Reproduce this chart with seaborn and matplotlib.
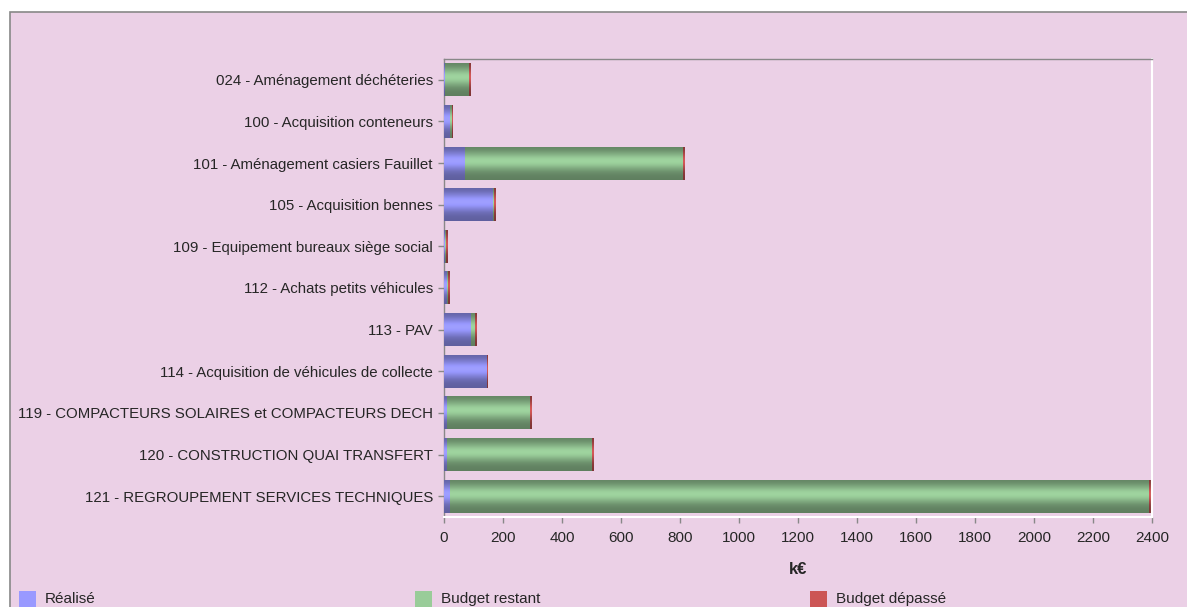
import numpy as np
import pandas as pd
import matplotlib
matplotlib.use("Agg")
import matplotlib.pyplot as plt
from matplotlib.patches import Rectangle
import seaborn as sns

categories = [
    "024 - Aménagement déchéteries",
    "100 - Acquisition conteneurs",
    "101 - Aménagement casiers Fauillet",
    "105 - Acquisition bennes",
    "109 - Equipement bureaux siège social",
    "112 - Achats petits véhicules",
    "113 - PAV",
    "114 - Acquisition de véhicules de collecte",
    "119 - COMPACTEURS SOLAIRES et COMPACTEURS DECH",
    "120 - CONSTRUCTION QUAI TRANSFERT",
    "121 - REGROUPEMENT SERVICES TECHNIQUES",
]
realise = [2, 20, 71, 163, 2, 10, 91, 143, 10, 10, 20]
restant = [82, 4, 738, 4, 4, 1, 12, 0, 279, 491, 2368]
depasse = [6, 6, 6, 6, 6, 6, 6, 6, 6, 6, 6]
xticks = list(range(0, 2401, 200))
legend_labels = ["Réalisé", "Budget restant", "Budget dépassé"]

PINK = "#ebd0e6"
BLUE = "#9999ff"
GREEN = "#99cc99"
RED = "#cc5555"

df = pd.DataFrame({"cat": categories, "r": realise, "g": restant, "d": depasse})
df["rg"] = df["r"] + df["g"]
df["tot"] = df["rg"] + df["d"]

sns.set_style("white")
plt.rcParams["font.family"] = ["Liberation Sans", "DejaVu Sans"]

W, H = 1187, 607
fig = plt.figure(figsize=(W / 100, H / 100), dpi=100)
fig.patch.set_facecolor("white")
fig.patches.append(Rectangle((10 / W, -0.01), 1.0, (H - 12) / H + 0.01,
                             transform=fig.transFigure, facecolor=PINK,
                             edgecolor="#888888", linewidth=1.2, zorder=-10))

ax = fig.add_axes([444 / W, 1 - 517 / H, (1152 - 444) / W, (517 - 59) / H])
ax.set_facecolor(PINK)

layers = [("tot", RED), ("rg", GREEN), ("r", BLUE)]
for col, c in layers:
    sns.barplot(data=df, x=col, y="cat", orient="h", color=c, width=0.79,
                edgecolor="none", saturation=1, ax=ax)


def shade(hexc):
    base = np.array(matplotlib.colors.to_rgb(hexc))
    t = np.linspace(0, 1, 40)
    f = 0.62 + 0.42 * np.exp(-((t - 0.42) / 0.28) ** 2)
    return np.clip(base[None, :] * f[:, None], 0, 1)[:, None, :]


n = len(categories)
for i, p in enumerate(ax.patches):
    color_idx = i // n
    x, y = p.get_x(), p.get_y()
    w, h = p.get_width(), p.get_height()
    if w <= 0:
        continue
    img = shade(layers[color_idx][1])
    ax.imshow(img, extent=[x, x + w, y + h, y], aspect="auto",
              zorder=2 + color_idx, interpolation="bilinear")

ax.set_xlim(0, 2400)
ax.set_ylim(n - 0.5, -0.5)
ax.set_xticks(xticks)
ax.set_xticklabels([str(v) for v in xticks], fontsize=11)
ax.tick_params(axis="y", labelsize=10.8)
ax.set_ylabel("")
ax.set_xlabel("k€", fontsize=12, fontweight="bold", labelpad=12)
ax.tick_params(axis="both", which="both", length=4, width=1, color="#888888",
               direction="out", bottom=True, left=True)
ax.tick_params(axis="x", pad=6)
ax.tick_params(axis="y", pad=4)
for s in ["left", "top"]:
    ax.spines[s].set_color("#888888")
    ax.spines[s].set_linewidth(1)
for s in ["right", "bottom"]:
    ax.spines[s].set_color("white")
    ax.spines[s].set_linewidth(1.5)

legend_x = [19, 415, 810]
for lx, lab, c in zip(legend_x, legend_labels, [BLUE, GREEN, RED]):
    fig.patches.append(Rectangle((lx / W, 1 - 608 / H), 17 / W, 17 / H,
                                 transform=fig.transFigure, facecolor=c,
                                 edgecolor="none", zorder=5))
    fig.text((lx + 26) / W, 1 - 592 / H, lab, fontsize=11, va="top", ha="left")

fig.savefig("out.png", dpi=100, facecolor="white")
